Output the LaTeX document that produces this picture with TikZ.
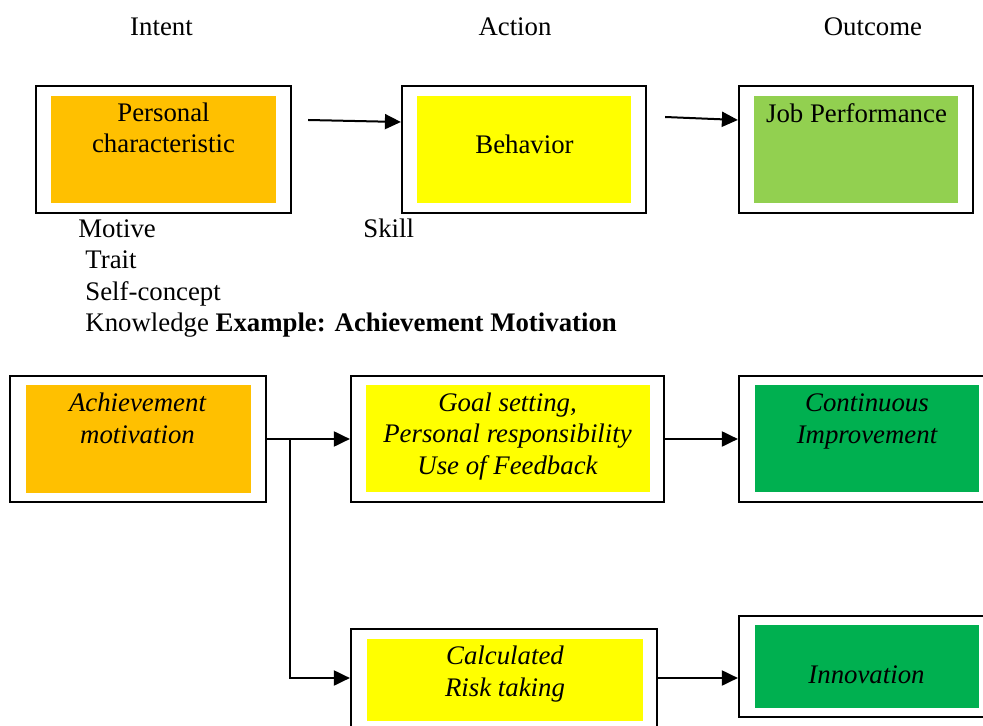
\documentclass[tikz,border=0pt]{standalone}
\usepackage{fontspec}
\setmainfont{Liberation Serif}
\usetikzlibrary{arrows.meta,calc}
\definecolor{corange}{HTML}{FFC000}
\definecolor{cyellow}{HTML}{FFFF00}
\definecolor{clgreen}{HTML}{92D050}
\definecolor{cgreen}{HTML}{00B050}
\begin{document}
\begin{tikzpicture}[x=0.5pt,y=-0.5pt,
  outerbox/.style={draw=black,line width=1.1pt,inner sep=0pt,rectangle},
  innerbox/.style={inner sep=0pt,rectangle},
  txt/.style={font=\fontsize{13.4}{16}\selectfont,inner sep=0pt,anchor=base},
  ltxt/.style={font=\fontsize{13.4}{16}\selectfont,inner sep=0pt,anchor=base west},
  itxt/.style={font=\fontsize{13.4}{16}\selectfont\itshape,inner sep=0pt,anchor=base},
  conn/.style={line width=1pt,-{Triangle[length=8pt,width=7.5pt]}},
  plain/.style={line width=1pt}]
\useasboundingbox (0,0) rectangle (983,726);
\clip (0,0) rectangle (983,726);
% headers
\node[txt] (hIntent) at (161.5,36) {Intent};
\node[txt] (hAction) at (515,36) {Action};
\node[txt] (hOutcome) at (873,36) {Outcome};
% top row
\node[outerbox,minimum width=127.5pt,minimum height=63.5pt] (box1) at (163.5,149.5) {};
\node[innerbox,fill=corange,minimum width=112.5pt,minimum height=53.5pt] (in1) at (163.5,149.5) {};
\node[txt] (t1a) at (163.5,122) {Personal};
\node[txt] (t1b) at (163.5,153) {characteristic};
\node[outerbox,minimum width=122pt,minimum height=63.5pt] (box2) at (524,149.5) {};
\node[innerbox,fill=cyellow,minimum width=107pt,minimum height=53.5pt] (in2) at (524,149.5) {};
\node[txt] (t2) at (524.5,154) {Behavior};
\node[outerbox,minimum width=117pt,minimum height=63.5pt] (box3) at (856,149.5) {};
\node[innerbox,fill=clgreen,minimum width=102pt,minimum height=53.5pt] (in3) at (856,149.5) {};
\node[txt] (t3) at (856.5,123) {Job Performance};
\draw[conn] ($(box1.east)+(16,-29.5)$) -- ($(box2.west)+(0,-27.5)$);
\draw[conn] ($(box2.east)+(18,-32.5)$) -- ($(box3.west)+(0,-29.5)$);
% lists
\node[ltxt] (m1) at (78,238) {Motive};
\node[ltxt] (m2) at (85,269) {Trait};
\node[ltxt] (m3) at (85,301) {Self-concept};
\node[ltxt] (m4) at (85,332) {Knowledge \textbf{Example: Achievement Motivation}};
\node[ltxt] (sk) at (363,238) {Skill};
% bottom rows
\node[outerbox,minimum width=128pt,minimum height=63pt] (box4) at (138,439) {};
\node[innerbox,fill=corange,minimum width=112.5pt,minimum height=54pt] (in4) at (138.5,439) {};
\node[itxt] (t4a) at (137.5,411) {Achievement};
\node[itxt] (t4b) at (137.5,443) {motivation};
\node[outerbox,minimum width=156.5pt,minimum height=63pt] (box5) at (507.5,439) {};
\node[innerbox,fill=cyellow,minimum width=142pt,minimum height=53.5pt] (in5) at (508,438.5) {};
\node[itxt] (t5a) at (507.5,411) {Goal setting,};
\node[itxt] (t5b) at (507.5,442) {Personal responsibility};
\node[itxt] (t5c) at (507.5,474) {Use of Feedback};
\node[outerbox,minimum width=128pt,minimum height=63pt] (box6) at (867,439) {};
\node[innerbox,fill=cgreen,minimum width=112pt,minimum height=53.5pt] (in6) at (867,438.5) {};
\node[itxt] (t6a) at (867,411) {Continuous};
\node[itxt] (t6b) at (867,443) {Improvement};
\node[outerbox,minimum width=153pt,minimum height=49pt] (box7) at (504,678) {};
\node[innerbox,fill=cyellow,minimum width=138pt,minimum height=41pt] (in7) at (505,680) {};
\node[itxt] (t7a) at (505,664) {Calculated};
\node[itxt] (t7b) at (505,696) {Risk taking};
\node[outerbox,minimum width=128pt,minimum height=50.5pt] (box8) at (867,666.5) {};
\node[innerbox,fill=cgreen,minimum width=112pt,minimum height=41.5pt] (in8) at (867,666.5) {};
\node[itxt] (t8) at (866.5,683) {Innovation};
% connectors
\coordinate (br) at (290,439);
\draw[conn] (box4.east) -- (box5.west);
\draw[conn] (br) |- (box7.west);
\draw[conn] (box5.east) -- (box6.west);
\draw[conn] (box7.east) -- (box7.east -| box8.west);
\end{tikzpicture}
\end{document}
